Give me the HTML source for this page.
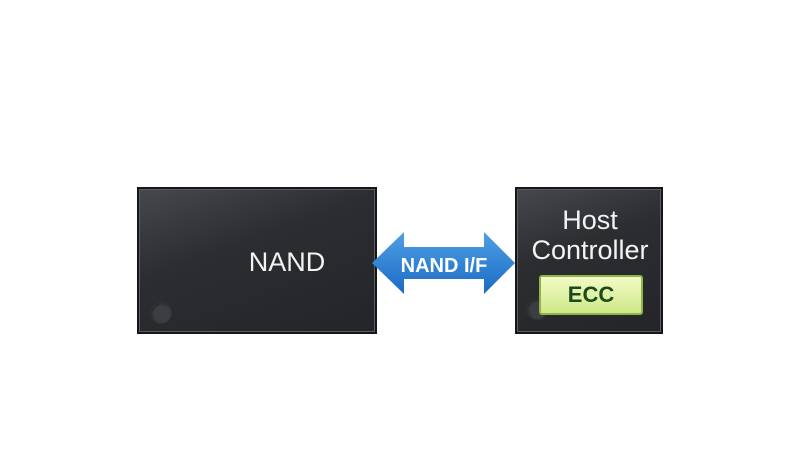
<!DOCTYPE html>
<html><head><style>
body{margin:0;width:800px;height:464px;background:#fff;position:relative;overflow:hidden;font-family:"Liberation Sans",Arial,sans-serif}
.chip{position:absolute;background:linear-gradient(160deg,#45484d 0%,#2b2d31 40%,#232528 100%);border:2px solid #151617;box-sizing:border-box;box-shadow:inset 0 0 0 1px #5a5d62}
.dot{position:absolute;width:20px;height:20px;border-radius:50%;background:#3c3e42;box-shadow:inset 1px 1px 2px #222,0 0 1px #666}
.t{position:absolute;color:#f2f2f2;text-align:center}
</style></head><body>
<div class="chip" style="left:137px;top:187px;width:240px;height:147px">
 <div class="dot" style="left:12px;top:114px"></div>
 <div class="t" style="left:98px;top:58px;width:100px;font-size:27px">NAND</div>
</div>
<div class="chip" style="left:515px;top:187px;width:148px;height:147px">
 <div class="dot" style="left:10px;top:110px"></div>
 <div class="t" style="left:-4px;top:16px;width:154px;font-size:27px;line-height:30px">Host<br>Controller</div>
 <div style="position:absolute;left:22px;top:86px;width:104px;height:40px;box-sizing:border-box;background:linear-gradient(#f2fbc6,#cfe887);border:2px solid #8fb44a;border-radius:3px;color:#1d4a1d;font-size:22px;font-weight:bold;text-align:center;line-height:36px">ECC</div>
</div>
<svg style="position:absolute;left:0;top:0" width="800" height="464">
 <defs><linearGradient id="g" x1="0" y1="0" x2="0" y2="1"><stop offset="0" stop-color="#4fa0e6"/><stop offset="1" stop-color="#1b6ac4"/></linearGradient></defs>
 <polygon points="372,263 404,232 404,247 484,247 484,232 515,263 484,294 484,279 404,279 404,294" fill="url(#g)"/>
 <text x="444" y="272" text-anchor="middle" fill="#fff" font-family="Liberation Sans, Arial, sans-serif" font-weight="bold" font-size="20">NAND I/F</text>
</svg>
</body></html>
